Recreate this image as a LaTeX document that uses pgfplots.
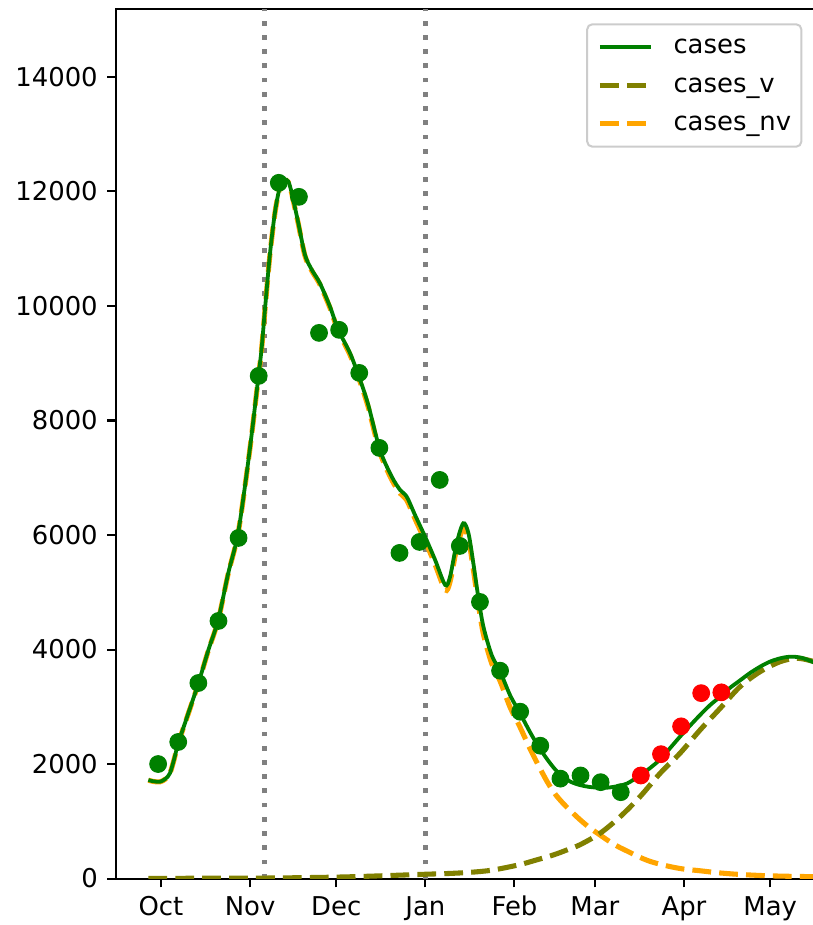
\documentclass[border=0pt]{standalone}
\usepackage{fontspec}
\setmainfont{DejaVu Sans}
\usepackage{pgfplots}
\pgfplotsset{compat=1.18}

\definecolor{mplgreen}{RGB}{0,128,0}
\definecolor{mplolive}{RGB}{128,128,0}
\definecolor{mplorange}{RGB}{255,165,0}
\definecolor{mplgray}{RGB}{128,128,128}
\definecolor{legedge}{RGB}{204,204,204}

% days counted from 1 Oct
\pgfplotstableread{
day cases
-4.4 1721
-2.8 1700
-0.4 1691
1.5 1740
3.1 1838
4.6 2090
6.0 2362
9.5 2886
13.0 3410
16.5 3992
19.9 4516
23.4 5332
26.6 5972
29.2 6845
31.6 7778
33.9 8767
35.0 9250
36.2 9950
37.9 10900
39.7 11650
41.4 12080
43.0 12200
44.3 12175
45.5 11976
46.7 11700
47.8 11447
50.1 10893
52.5 10631
55.3 10398
58.8 9990
61.7 9583
65.8 9175
69.3 8709
72.2 8260
76.2 7486
80.3 7019
83.2 6787
85.5 6670
88.4 6350
91.9 5971
95.4 5564
98.9 5127
100.6 5272
102.9 5856
105.2 6205
107.0 6030
108.7 5507
110.4 4923
112.2 4399
115.1 3900
118.0 3620
121.5 3200
124.8 2900
128.4 2560
131.2 2320
134.3 2090
137.1 1910
140.0 1770
143.0 1680
146.0 1630
149.1 1600
152.8 1585
156.0 1590
159.0 1615
162.2 1660
166.7 1800
170.2 1930
173.7 2080
177.2 2280
180.6 2477
184.1 2670
187.6 2856
191.1 3030
194.6 3176
198.0 3330
201.5 3460
205.0 3590
208.5 3700
212.0 3790
215.5 3847
218.0 3870
220.1 3875
223.0 3855
226.5 3790
230.0 3700
}\casestab

\pgfplotstableread{
day v
-4.4 3
20 6
40 10
61 25
75 45
92 75
100 88
108 110
115.4 148
124.6 240
130 315
136.5 411
141.2 498
145.8 590
152.8 790
159.8 1080
166.7 1429
173.7 1838
180.6 2187
187.6 2594
194.6 2973
201.5 3351
208.5 3613
215.5 3788
221.3 3847
226.5 3800
230 3740
}\vtab

\pgfplotstableread{
day nv
-4.4 1718
-2.8 1697
-0.4 1688
1.5 1737
3.1 1835
4.6 2087
6.0 2358
9.5 2881
13.0 3405
16.5 3987
19.9 4510
23.4 5326
26.6 5966
29.2 6838
31.6 7771
33.9 8759
35.0 9242
36.2 9941
37.9 10890
39.7 11640
41.4 12069
43.0 12188
44.3 12162
45.5 11962
46.7 11685
47.8 11431
50.1 10875
52.5 10612
55.3 10377
58.8 9967
61.7 9557
65.8 9143
69.3 8671
72.2 8219
76.2 7439
80.3 6966
83.2 6729
85.5 6609
88.4 6283
91.9 5896
95.4 5483
98.9 5041
100.6 5184
102.9 5765
105.2 6111
107.0 5933
108.7 5396
110.4 4810
112.2 4269
115.1 3755
118.0 3450
121.5 2990
124.8 2660
128.4 2270
131.2 1990
134.3 1700
137.1 1480
140.0 1310
143.0 1160
146.0 1020
149.1 890
152.8 760
156.0 650
159.0 560
162.2 480
166.7 370
170.2 300
173.7 250
178 200
182 165
187.6 136
193 105
199.2 79
205 62
210.8 49
218 40
226.5 33
230 30
}\nvtab

\pgfplotstableread{
day obs
-1 2000
6 2385
13 3415
20 4499
27 5949
34 8779
41 12151
48 11906
55 9530
62 9583
69 8831
76 7521
83 5687
90 5879
97 6962
104 5809
111 4831
118 3630
125 2914
132 2320
139 1745
146 1800
153 1683
160 1508
}\obstab

\pgfplotstableread{
day obs
167 1800
174 2172
181 2658
188 3238
195 3252
}\newtab

\begin{document}
\begin{tikzpicture}
\begin{axis}[
  at={(0,0)}, anchor=south west,
  scale only axis,
  width=289.4pt, height=342.4pt,
  xmin=-15.66, xmax=240,
  ymin=0, ymax=15180,
  axis line style={line width=0.8pt},
  tick pos=left,
  tick align=outside,
  major tick length=3.5pt,
  every tick/.style={black, line width=0.8pt},
  xtick={0,31,61,92,123,151,182,212},
  xticklabels={Oct,Nov,Dec,Jan,Feb,Mar,Apr,May},
  ytick={0,2000,4000,6000,8000,10000,12000,14000},
  scaled y ticks=false,
  /pgf/number format/1000 sep={},
  /pgf/number format/assume math mode=true,
  ticklabel style={font=\fontsize{10.2}{12}\selectfont},
  xticklabel style={text height=7.5pt, text depth=0pt, inner sep=0pt, yshift=-3.5pt},
  yticklabel style={inner sep=0pt, xshift=-3.5pt},
  legend style={at={(0.9343,0.984)}, anchor=north east,
    draw=legedge, line width=0.8pt, rounded corners=2pt, fill=white,
    inner xsep=4pt, inner ysep=4pt, row sep=5.1pt, column sep=8pt,
    nodes={inner sep=0pt, text height=7.6pt, text depth=2.4pt},
    font=\fontsize{10.2}{12}\selectfont},
  legend cell align=left,
  legend image code/.code={\draw[#1] (0pt,0pt) -- (20pt,0pt);},
]
\addlegendimage{mplgreen, line width=1.5pt}
\addlegendentry{cases}
\addlegendimage{mplolive, line width=2pt, dash pattern=on 7.4pt off 3.2pt}
\addlegendentry{cases\_v}
\addlegendimage{mplorange, line width=2pt, dash pattern=on 7.4pt off 3.2pt}
\addlegendentry{cases\_nv}

\addplot[mplgray, line width=1.9pt, dash pattern=on 1.9pt off 3.7pt, forget plot]
  coordinates {(35.96,0) (35.96,15180)};
\addplot[mplgray, line width=1.9pt, dash pattern=on 1.9pt off 3.7pt, forget plot]
  coordinates {(92,0) (92,15180)};

\addplot[mplorange, line width=2pt, dash pattern=on 7.4pt off 3.2pt, smooth, forget plot]
  table[x=day, y=nv] {\nvtab};
\addplot[mplolive, line width=2pt, dash pattern=on 7.4pt off 3.2pt, smooth, forget plot]
  table[x=day, y=v] {\vtab};
\addplot[mplgreen, line width=1.5pt, smooth, forget plot]
  table[x=day, y=cases] {\casestab};

\addplot[only marks, mark=*, mark size=3.3pt, mplgreen, forget plot]
  table[x=day, y=obs] {\obstab};
\addplot[only marks, mark=*, mark size=3.3pt, red, forget plot]
  table[x=day, y=obs] {\newtab};
\end{axis}
\pgfresetboundingbox
\useasboundingbox (-45.7pt,-18.3pt) rectangle (274.2pt,346.1pt);
\end{tikzpicture}
\end{document}
